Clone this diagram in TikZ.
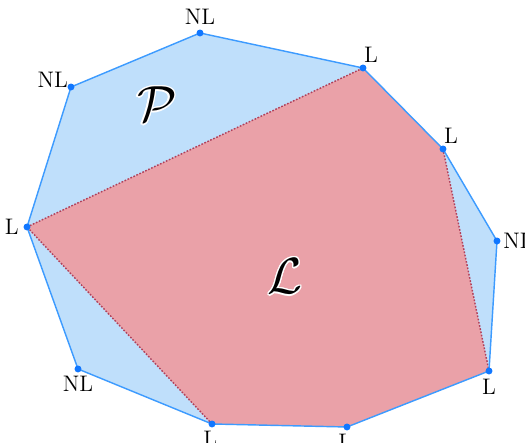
\documentclass[tikz,border=0pt]{standalone}
\usepackage{amsmath,amssymb}
\usepackage[copies]{contour}
\usepackage{tikz}
\usetikzlibrary{positioning}
\contourlength{0.7pt}
\definecolor{polyblue}{HTML}{BFDFFB}
\definecolor{lineblue}{HTML}{3D9BFF}
\definecolor{dotblue}{HTML}{1177FF}
\definecolor{lowred}{HTML}{EAA1A8}
\definecolor{dotred}{HTML}{B0405A}

\begin{document}
\begin{tikzpicture}[
  x=0.0172cm, y=-0.0172cm,
  vtx/.style={circle,fill=dotblue,inner sep=0pt,minimum size=3.4pt},
  lab/.style={font=\fontsize{11}{13}\selectfont,inner sep=1pt},
  big/.style={font=\fontsize{26}{30}\selectfont}
]
  \useasboundingbox (0,0) rectangle (525,443);

  \coordinate (NLt) at (200, 33);
  \coordinate (Lt)  at (363, 68);
  \coordinate (Lr)  at (443,149);
  \coordinate (NLr) at (497,241);
  \coordinate (Lbr) at (489,371);
  \coordinate (Lb)  at (347,427);
  \coordinate (Lbl) at (212,424);
  \coordinate (NLb) at ( 78,369);
  \coordinate (Ll)  at ( 27,227);
  \coordinate (NLl) at ( 71, 87);

  % P and L
  \fill[polyblue] (NLt)--(Lt)--(Lr)--(NLr)--(Lbr)--(Lb)--(Lbl)--(NLb)--(Ll)--(NLl)--cycle;
  \fill[lowred] (Ll)--(Lt)--(Lr)--(Lbr)--(Lb)--(Lbl)--cycle;
  \draw[dotred,line width=0.7pt,dash pattern=on 0.8pt off 0.8pt] (Ll)--(Lt);
  \draw[dotred,line width=0.7pt,dash pattern=on 0.8pt off 0.8pt] (Lr)--(Lbr);
  \draw[dotred,line width=0.7pt,dash pattern=on 0.8pt off 0.8pt] (Lbl)--(Ll);
  \draw[lineblue,line width=0.7pt] (NLt)--(Lt)--(Lr)--(NLr)--(Lbr)--(Lb)--(Lbl)--(NLb)--(Ll)--(NLl)--cycle;

  \node[vtx] (v1)  at (NLt) {};
  \node[vtx] (v2)  at (Lt)  {};
  \node[vtx] (v3)  at (Lr)  {};
  \node[vtx] (v4)  at (NLr) {};
  \node[vtx] (v5)  at (Lbr) {};
  \node[vtx] (v6)  at (Lb)  {};
  \node[vtx] (v7)  at (Lbl) {};
  \node[vtx] (v8)  at (NLb) {};
  \node[vtx] (v9)  at (Ll)  {};
  \node[vtx] (v10) at (NLl) {};

  \node[lab,above=1pt of v1]            {NL};
  \node[lab,above right=0pt and -2pt of v2] {L};
  \node[lab,above right=0pt and -2pt of v3] {L};
  \node[lab,right=0pt of v4]            {NL};
  \node[lab,below=1pt of v5]            {L};
  \node[lab,below left=1pt and -5pt of v6] {L};
  \node[lab,below left=1pt and -5pt of v7] {L};
  \node[lab,below left=1pt and -10pt of v8] {NL};
  \node[lab,left=1pt of v9]             {L};
  \node[lab,above left=-3pt and -1pt of v10] {NL};

  \node[big] (P) at (157,105) {\contour{white}{$\mathcal{P}$}};
  \node[big] (L) at (285,277) {\contour{white}{$\mathcal{L}$}};
\end{tikzpicture}
\end{document}
